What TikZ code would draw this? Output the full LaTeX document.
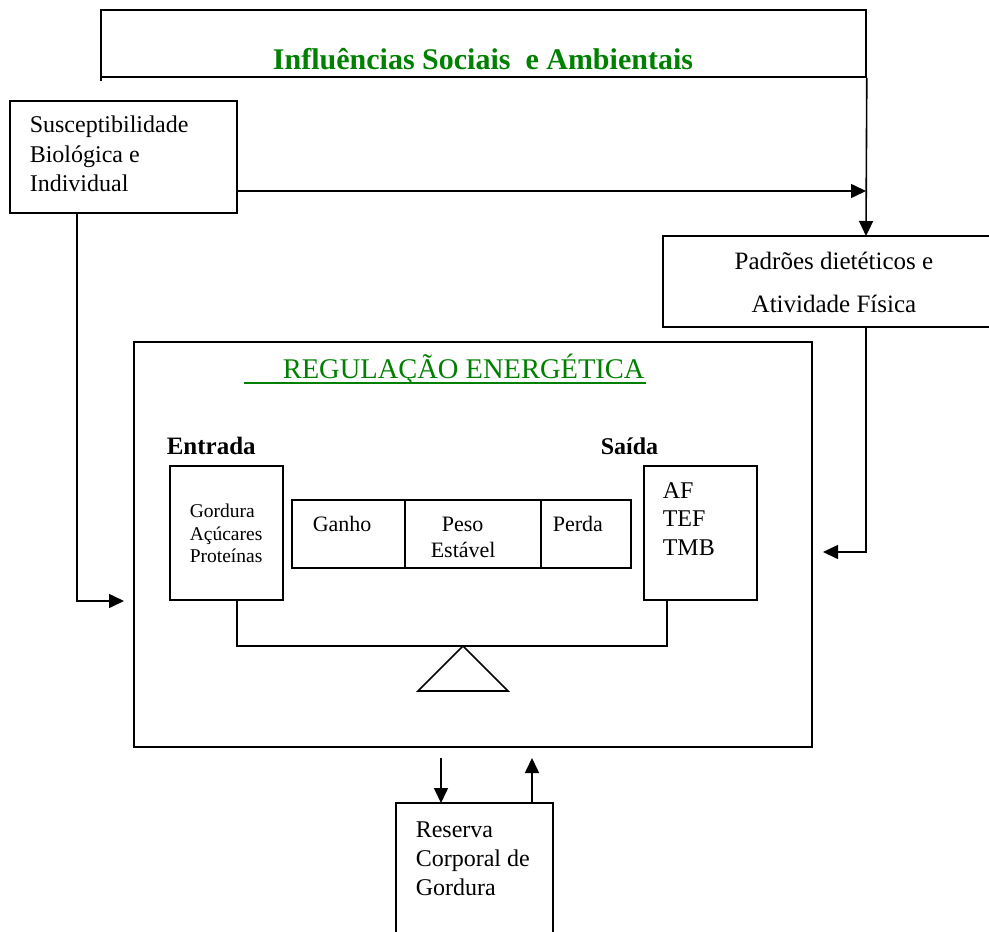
\documentclass[tikz,border=0pt]{standalone}
\usepackage{fontspec}
\setmainfont{Liberation Serif}
\usetikzlibrary{arrows.meta}
\definecolor{titlegreen}{RGB}{0,128,0}
\begin{document}
\begin{tikzpicture}[x=1pt,y=-1pt,
  line width=1.6pt,
  arr/.style={-{Triangle[length=15pt,width=14pt]}},
  boxnode/.style={draw,inner sep=0pt,rectangle},
  txt/.style={inner sep=0pt,anchor=base west},
  ctxt/.style={inner sep=0pt,anchor=base},
  f24/.style={font=\fontsize{24}{28}\selectfont},
  f22/.style={font=\fontsize{22}{26}\selectfont},
  f20/.style={font=\fontsize{19.5}{23}\selectfont}]
\useasboundingbox (0,0) rectangle (989,932);

% banner
\node[boxnode,minimum width=765pt,minimum height=67pt] (ban) at (483.5,43.5) {};
\draw (101,77) -- (101,81);
\node[ctxt,font=\fontsize{30}{34}\selectfont\bfseries,text=titlegreen] (bantxt) at (483,69) {Influências Sociais\ \ e Ambientais};

% susceptibilidade
\node[boxnode,minimum width=227pt,minimum height=112pt] (sus) at (123.5,157) {};
\node[txt,f24] (s1) at (29,132) {Susceptibilidade};
\node[txt,f24] (s2) at (29,162) {Biológica e};
\node[txt,f24] (s3) at (29,191) {Individual};

% padroes (open at right page edge)
\coordinate (padtl) at (663,236);
\coordinate (padin) at (866,236);
\coordinate (padout) at (866,327);
\draw (990,236) -- (padtl) -- (663,327) -- (990,327);
\node[ctxt,font=\fontsize{25}{28}\selectfont] (p1) at (834,269) {Padrões dietéticos e};
\node[ctxt,font=\fontsize{25}{28}\selectfont] (p2) at (834,312) {Atividade Física};

% connectors top
\coordinate (j1) at (866,191);
\draw[arr] (sus.east |- j1) -- (j1);
\draw[arr] (ban.south east) -- (padin);

% main box
\node[boxnode,minimum width=678pt,minimum height=405pt] (reg) at (473,544.5) {};
\node[txt,font=\fontsize{28.5}{32}\selectfont,text=titlegreen] (regtxt) at (282,378) {REGULAÇÃO ENERGÉTICA};
\draw[titlegreen,line width=1.3pt] (244,383) -- (646,383);

\node[txt,font=\fontsize{25}{28}\selectfont\bfseries] (entl) at (166,454) {Entrada};
\node[txt,font=\fontsize{24}{28}\selectfont\bfseries] (sail) at (600,454) {Saída};

\node[boxnode,minimum width=113pt,minimum height=134pt] (ent) at (226.5,533) {};
\node[txt,f20] (e1) at (189,517) {Gordura};
\node[txt,f20] (e2) at (189,540) {Açúcares};
\node[txt,f20] (e3) at (189,562) {Proteínas};

\node[boxnode,minimum width=339pt,minimum height=68pt] (bar) at (461.5,534) {};
\draw (405,500) -- (405,568);
\draw (541,500) -- (541,568);
\node[txt,f22] (b1) at (312,531) {Ganho};
\node[txt,f22] (b2) at (441,531) {Peso};
\node[txt,f22] (b3) at (430,557) {Estável};
\node[txt,f22] (b4) at (552,531) {Perda};

\node[boxnode,minimum width=113pt,minimum height=134pt] (sai) at (700.5,533) {};
\node[txt,f24] (a1) at (662,498) {AF};
\node[txt,f24] (a2) at (662,526) {TEF};
\node[txt,f24] (a3) at (662,555) {TMB};

% balance
\coordinate (bl) at (237,646);
\coordinate (br) at (667,646);
\draw (ent.south -| bl) -- (bl) -- (br) -- (sai.south -| br);
\coordinate (apex) at (463,646);
\draw (418,691) -- (apex) -- (508,691) -- cycle;

% side connectors
\coordinate (l1) at (77,601);
\coordinate (l2) at (124,601);
\draw[arr] (sus.south -| l1) -- (l1) -- (l2);
\coordinate (r1) at (866,552);
\coordinate (r2) at (823,552);
\draw[arr] (padout) -- (r1) -- (r2);

% reserva
\coordinate (rtl) at (396,803);
\coordinate (rtr) at (553,803);
\draw (396,935) -- (rtl) -- (rtr) -- (553,935);
\node[txt,f24] (rv1) at (415,837) {Reserva};
\node[txt,f24] (rv2) at (415,866) {Corporal de};
\node[txt,f24] (rv3) at (415,895) {Gordura};
\coordinate (d1) at (441,758);
\coordinate (d2) at (441,803);
\coordinate (u1) at (532,803);
\coordinate (u2) at (532,758);
\draw[arr] (d1) -- (d2);
\draw[arr] (u1) -- (u2);
\end{tikzpicture}
\end{document}
